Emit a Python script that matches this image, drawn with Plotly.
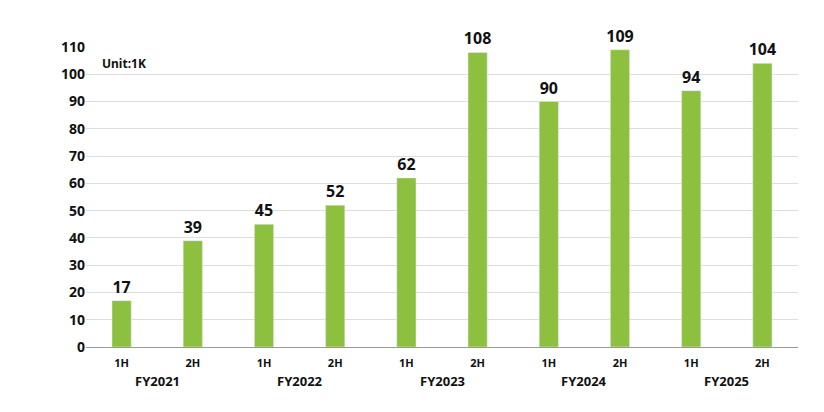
import plotly.graph_objects as go

halves = ["1H", "2H"] * 5
years = ["FY2021", "FY2022", "FY2023", "FY2024", "FY2025"]
values = [17, 39, 45, 52, 62, 108, 90, 109, 94, 104]
yticks = list(range(0, 111, 10))

x = list(range(len(values)))
fig = go.Figure(go.Bar(
    x=x, y=values, width=0.27, marker_color="#8DC03F",
    text=[f"<b>{v}</b>" for v in values], textposition="outside", constraintext="none",
    textfont=dict(size=16, color="#111", family="Noto Sans"), cliponaxis=False))

ann = [dict(x=2*i+0.5, y=-0.15, xref="x", yref="paper", text=f"<b>{yr}</b>",
            showarrow=False, font=dict(size=13, color="#111")) for i, yr in enumerate(years)]
ann.append(dict(x=0.02, y=104, xref="paper", yref="y", text="<b>Unit:1K</b>", xanchor="left",
                showarrow=False, font=dict(size=12, color="#111")))

fig.update_layout(
    width=824, height=412, margin=dict(l=78, r=34, t=39, b=73),
    plot_bgcolor="white", paper_bgcolor="white", showlegend=False,
    font=dict(family="Noto Sans", color="#111"), annotations=ann, uniformtext=dict(mode=False),
    xaxis=dict(tickvals=x, ticktext=[f"<b>{h}</b>" for h in halves], range=[-0.5, 9.5],
               showline=True, linecolor="#999", tickfont=dict(size=11), ticks="", showgrid=False,
               ticklabelstandoff=6),
    yaxis=dict(range=[0, 110], tickvals=yticks, ticktext=[f"<b>{t}</b>" for t in yticks],
               showgrid=True, gridcolor="#ddd", tickfont=dict(size=14), zeroline=False),
)
fig.write_html("out.html")
